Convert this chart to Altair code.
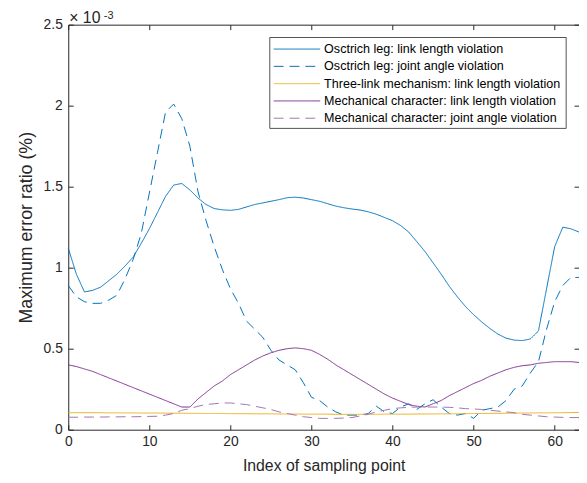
import altair as alt
import pandas as pd

x_idx = list(range(64))

series_names = [
    "Osctrich leg: link length violation",
    "Osctrich leg: joint angle violation",
    "Three-link mechanism: link length violation",
    "Mechanical character: link length violation",
    "Mechanical character: joint angle violation",
]

ostrich_len = [1.12, 0.96, 0.85, 0.86, 0.88, 0.92, 0.96, 1.01, 1.065, 1.15,
               1.24, 1.34, 1.44, 1.51, 1.52, 1.48, 1.43, 1.39, 1.365, 1.357,
               1.354, 1.36, 1.375, 1.39, 1.40, 1.41, 1.42, 1.432, 1.435, 1.43,
               1.42, 1.41, 1.395, 1.38, 1.37, 1.362, 1.356, 1.345, 1.33, 1.31,
               1.29, 1.26, 1.22, 1.16, 1.10, 1.03, 0.96, 0.885, 0.82, 0.76,
               0.71, 0.665, 0.625, 0.59, 0.565, 0.553, 0.55, 0.56, 0.61, 0.87,
               1.13, 1.25, 1.24, 1.22]

ostrich_ang = [0.89, 0.82, 0.79, 0.78, 0.78, 0.80, 0.83, 0.93, 1.05, 1.21,
               1.46, 1.71, 1.96, 2.01, 1.92, 1.75, 1.47, 1.29, 1.13, 0.99,
               0.87, 0.78, 0.67, 0.62, 0.57, 0.49, 0.43, 0.40, 0.37, 0.29,
               0.20, 0.18, 0.14, 0.11, 0.09, 0.09, 0.09, 0.10, 0.145, 0.11,
               0.10, 0.14, 0.16, 0.125, 0.16, 0.185, 0.14, 0.10, 0.09, 0.10,
               0.07, 0.12, 0.13, 0.14, 0.18, 0.25, 0.27, 0.35, 0.42, 0.62,
               0.79, 0.89, 0.94, 0.94]

three_link_len = [0.105, 0.105, 0.105, 0.105, 0.105, 0.104, 0.104, 0.104, 0.104, 0.103,
                  0.103, 0.103, 0.102, 0.102, 0.102, 0.101, 0.101, 0.100, 0.100, 0.100,
                  0.099, 0.099, 0.099, 0.098, 0.098, 0.098, 0.097, 0.097, 0.097, 0.096,
                  0.096, 0.096, 0.096, 0.095, 0.095, 0.095, 0.095, 0.095, 0.095, 0.096,
                  0.096, 0.096, 0.096, 0.097, 0.097, 0.097, 0.098, 0.098, 0.099, 0.099,
                  0.100, 0.100, 0.101, 0.101, 0.102, 0.102, 0.103, 0.103, 0.104, 0.104,
                  0.105, 0.105, 0.106, 0.106]

mech_len = [0.40, 0.39, 0.375, 0.36, 0.34, 0.32, 0.30, 0.28, 0.26, 0.24,
            0.22, 0.20, 0.18, 0.16, 0.14, 0.14, 0.19, 0.23, 0.27, 0.30,
            0.34, 0.37, 0.40, 0.43, 0.455, 0.475, 0.49, 0.50, 0.505, 0.50,
            0.49, 0.465, 0.435, 0.40, 0.37, 0.34, 0.31, 0.28, 0.25, 0.22,
            0.195, 0.175, 0.155, 0.145, 0.14, 0.16, 0.18, 0.21, 0.235, 0.26,
            0.285, 0.305, 0.33, 0.35, 0.37, 0.385, 0.395, 0.40, 0.41, 0.415,
            0.42, 0.42, 0.42, 0.415]

mech_ang = [0.077, 0.077, 0.078, 0.078, 0.078, 0.079, 0.079, 0.080, 0.080, 0.081,
            0.082, 0.083, 0.09, 0.10, 0.12, 0.13, 0.145, 0.155, 0.16, 0.165,
            0.165, 0.16, 0.155, 0.145, 0.135, 0.125, 0.11, 0.10, 0.09, 0.08,
            0.075, 0.07, 0.07, 0.07, 0.072, 0.075, 0.085, 0.095, 0.11, 0.12,
            0.13, 0.135, 0.138, 0.14, 0.14, 0.14, 0.14, 0.138, 0.135, 0.13,
            0.128, 0.125, 0.12, 0.115, 0.11, 0.105, 0.095, 0.09, 0.085, 0.08,
            0.078, 0.076, 0.075, 0.075]

colors = ["#0072BD", "#0072BD", "#EDB120", "#7E2F8E", "#A274B3"]
dashes = [[1, 0], [10, 6], [1, 0], [1, 0], [10, 6]]
widths = [1, 1, 1.2, 1, 1.4]

x_ticks = [0, 10, 20, 30, 40, 50, 60]
y_ticks = [0, 0.5, 1, 1.5, 2, 2.5]
legend_rows = [0, 1, 2, 3, 4]

all_series = [ostrich_len, ostrich_ang, three_link_len, mech_len, mech_ang]
rows = []
for name, vals in zip(series_names, all_series):
    for i, v in zip(x_idx, vals):
        rows.append({"idx": i, "val": v, "series": name})
df = pd.DataFrame(rows)
legend_df = pd.DataFrame({"series": series_names, "row": legend_rows})

FONT = "Liberation Sans"
INK = "#262626"

xs = alt.Scale(domain=[0, 63], nice=False, zero=False)
ys = alt.Scale(domain=[0, 2.5], nice=False)
color_scale = alt.Scale(domain=series_names, range=colors)
dash_scale = alt.Scale(domain=series_names, range=dashes)
width_scale = alt.Scale(domain=series_names, range=widths)

lines = alt.Chart(df).mark_line().encode(
    x=alt.X("idx:Q", scale=xs, axis=alt.Axis(
        orient="bottom", values=x_ticks, format="d", domain=False,
        tickSize=5, offset=-5, labelPadding=5, labelFontSize=14,
        labelFlush=False, title="Index of sampling point",
        titleFontSize=16, titlePadding=9)),
    y=alt.Y("val:Q", scale=ys, axis=alt.Axis(
        orient="left", values=y_ticks, format="~g", domain=False,
        tickSize=5, offset=-5, labelPadding=6, labelFontSize=14,
        labelFlush=False, title="Maximum error ratio (%)",
        titleFontSize=18, titlePadding=8)),
    color=alt.Color("series:N", scale=color_scale, legend=None),
    strokeDash=alt.StrokeDash("series:N", scale=dash_scale, legend=None),
    strokeWidth=alt.StrokeWidth("series:N", scale=width_scale, legend=None),
    order=alt.Order("idx:Q"),
)

frame = alt.Chart(df).mark_line(opacity=0).encode(
    x=alt.X("idx:Q", scale=xs, axis=alt.Axis(
        orient="top", values=x_ticks, labels=False, domain=False,
        tickSize=5, offset=-5, title=None)),
    y=alt.Y("val:Q", scale=ys, axis=alt.Axis(
        orient="right", values=y_ticks, labels=False, domain=False,
        tickSize=5, offset=-5, title=None)),
    detail="series:N",
)

# legend (box, line samples, labels)
row_scale = alt.Scale(domain=[0, 4], range=[24.7, 94.7])

legend_box = alt.Chart(pd.DataFrame({"k": [0]})).mark_rect(
    fill="white", stroke=INK, strokeWidth=0.8
).encode(x=alt.value(204), x2=alt.value(504), y=alt.value(13), y2=alt.value(105))

legend_lines = alt.Chart(legend_df).mark_rule(strokeWidth=1).encode(
    x=alt.value(208), x2=alt.value(255),
    y=alt.Y("row:Q", scale=row_scale, axis=None),
    color=alt.Color("series:N", scale=color_scale, legend=None),
    strokeDash=alt.StrokeDash("series:N", scale=dash_scale, legend=None),
)

legend_text = alt.Chart(legend_df).mark_text(
    font=FONT, fontSize=12.7, color="black", align="left", baseline="middle"
).encode(
    x=alt.value(259),
    y=alt.Y("row:Q", scale=row_scale, axis=None),
    text="series:N",
)

exp_base = alt.Chart(pd.DataFrame({"t": ["× 10"]})).mark_text(
    font=FONT, fontSize=16, color=INK, align="left", baseline="alphabetic"
).encode(text="t:N", x=alt.value(1), y=alt.value(-1.5))

exp_sup = alt.Chart(pd.DataFrame({"t": ["-3"]})).mark_text(
    font=FONT, fontSize=11, color=INK, align="left", baseline="alphabetic"
).encode(text="t:N", x=alt.value(36), y=alt.value(-6))

chart = alt.layer(
    lines, frame, legend_box, legend_lines, legend_text, exp_base, exp_sup
).resolve_scale(
    y="independent"
).resolve_axis(
    x="independent", y="independent"
).properties(
    width=517, height=410,
    autosize=alt.AutoSizeParams(type="none"),
    padding={"left": 61, "top": 14, "right": 0, "bottom": 45},
).configure_view(
    stroke=INK, strokeWidth=1
).configure_axis(
    labelFont=FONT, titleFont=FONT, labelColor=INK, titleColor=INK,
    tickColor=INK, grid=False, titleFontWeight="normal", tickWidth=1,
)

chart.save("out.html", embed_options={"renderer": "svg", "actions": False})
